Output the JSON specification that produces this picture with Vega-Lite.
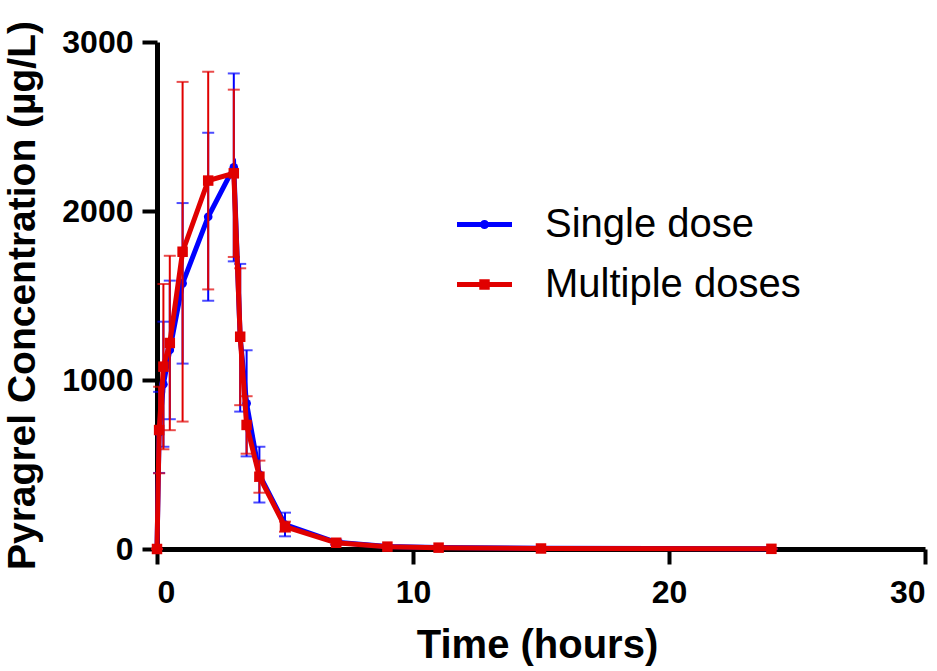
{
  "$schema": "https://vega.github.io/schema/vega-lite/v6.json",
  "width": 768,
  "height": 507,
  "autosize": "none",
  "padding": {"left": 157, "top": 42, "right": 12, "bottom": 122},
  "background": "white",
  "data": {
    "values": [
      {"series": "Single dose", "t": 0, "mean": 0, "sd": 0},
      {"series": "Single dose", "t": 0.083, "mean": 690, "sd": 240},
      {"series": "Single dose", "t": 0.25, "mean": 975, "sd": 370},
      {"series": "Single dose", "t": 0.5, "mean": 1178, "sd": 410},
      {"series": "Single dose", "t": 1, "mean": 1572, "sd": 475},
      {"series": "Single dose", "t": 2, "mean": 1966, "sd": 497},
      {"series": "Single dose", "t": 3, "mean": 2258, "sd": 556},
      {"series": "Single dose", "t": 3.25, "mean": 1250, "sd": 437},
      {"series": "Single dose", "t": 3.5, "mean": 862, "sd": 314},
      {"series": "Single dose", "t": 4, "mean": 440, "sd": 165},
      {"series": "Single dose", "t": 5, "mean": 145, "sd": 70},
      {"series": "Single dose", "t": 7, "mean": 40, "sd": 15},
      {"series": "Single dose", "t": 9, "mean": 15, "sd": 6},
      {"series": "Single dose", "t": 11, "mean": 9, "sd": 4},
      {"series": "Single dose", "t": 15, "mean": 4, "sd": 2},
      {"series": "Single dose", "t": 24, "mean": 1, "sd": 1},
      {"series": "Multiple doses", "t": 0, "mean": 0, "sd": 0},
      {"series": "Multiple doses", "t": 0.083, "mean": 704, "sd": 256},
      {"series": "Multiple doses", "t": 0.25, "mean": 1079, "sd": 489},
      {"series": "Multiple doses", "t": 0.5, "mean": 1219, "sd": 516},
      {"series": "Multiple doses", "t": 1, "mean": 1759, "sd": 1005},
      {"series": "Multiple doses", "t": 2, "mean": 2180, "sd": 644},
      {"series": "Multiple doses", "t": 3, "mean": 2223, "sd": 495},
      {"series": "Multiple doses", "t": 3.25, "mean": 1256, "sd": 405},
      {"series": "Multiple doses", "t": 3.5, "mean": 734, "sd": 170},
      {"series": "Multiple doses", "t": 4, "mean": 428, "sd": 95},
      {"series": "Multiple doses", "t": 5, "mean": 132, "sd": 30},
      {"series": "Multiple doses", "t": 7, "mean": 37, "sd": 10},
      {"series": "Multiple doses", "t": 9, "mean": 14, "sd": 5},
      {"series": "Multiple doses", "t": 11, "mean": 8, "sd": 3},
      {"series": "Multiple doses", "t": 15, "mean": 3, "sd": 1},
      {"series": "Multiple doses", "t": 24, "mean": 1, "sd": 1}
    ]
  },
  "encoding": {
    "x": {
      "field": "t",
      "type": "quantitative",
      "title": "Time (hours)",
      "scale": {"domain": [0, 30], "nice": false},
      "axis": {
        "values": [0, 10, 20, 30],
        "format": "d",
        "labelPadding": 13,
        "titleX": 380,
        "titleY": 108,
        "titleBaseline": "alphabetic",
        "titleAlign": "center"
      }
    },
    "y": {
      "field": "mean",
      "type": "quantitative",
      "title": "Pyragrel Concentration (µg/L)",
      "scale": {"domain": [0, 3000], "nice": false},
      "axis": {
        "values": [0, 1000, 2000, 3000],
        "format": "d",
        "labelPadding": 9,
        "titleX": -123,
        "titleY": 253,
        "titleAngle": -90,
        "titleBaseline": "alphabetic",
        "titleAlign": "center",
        "titleFontSize": 39
      }
    }
  },
  "layer": [
    {
      "transform": [{"filter": "datum.series == 'Single dose'"}],
      "mark": {"type": "errorbar", "ticks": {"size": 12, "thickness": 2, "color": "#0000ff"}, "thickness": 2, "color": "#0000ff"},
      "encoding": {"yError": {"field": "sd"}}
    },
    {
      "transform": [{"filter": "datum.series == 'Single dose'"}],
      "mark": {
        "type": "line",
        "color": "#0000ff",
        "strokeWidth": 5,
        "point": {"filled": true, "shape": "circle", "size": 75, "color": "#0000ff"}
      }
    },
    {
      "transform": [{"filter": "datum.series == 'Multiple doses'"}],
      "mark": {"type": "errorbar", "ticks": {"size": 12, "thickness": 2, "color": "#e00000"}, "thickness": 2, "color": "#e00000"},
      "encoding": {"yError": {"field": "sd"}}
    },
    {
      "transform": [{"filter": "datum.series == 'Multiple doses'"}],
      "mark": {
        "type": "line",
        "color": "#e00000",
        "strokeWidth": 5,
        "point": {"filled": true, "shape": "square", "size": 110, "color": "#e00000"}
      }
    },
    {
      "mark": {"type": "point", "filled": true, "opacity": 0},
      "encoding": {
        "color": {
          "field": "series",
          "type": "nominal",
          "scale": {"domain": ["Single dose", "Multiple doses"], "range": ["#0000ff", "#e00000"]},
          "legend": {
            "title": null,
            "orient": "none",
            "legendX": 300,
            "legendY": 155,
            "symbolOpacity": 1,
            "symbolStrokeWidth": 0,
            "symbolSize": 3025,
            "labelOffset": 33,
            "rowPadding": 12,
            "padding": 0
          }
        },
        "shape": {
          "field": "series",
          "type": "nominal",
          "scale": {
            "domain": ["Single dose", "Multiple doses"],
            "range": [
              "M-1,-0.09H1V0.09H-1Z M-0.165,0A0.165,0.165 0 1,1 0.165,0A0.165,0.165 0 1,1 -0.165,0Z",
              "M-1,-0.09H1V0.09H-1Z M-0.19,-0.19H0.19V0.19H-0.19Z"
            ]
          },
          "legend": {
            "title": null,
            "orient": "none",
            "legendX": 300,
            "legendY": 155,
            "symbolOpacity": 1,
            "symbolStrokeWidth": 0,
            "symbolSize": 3025,
            "labelOffset": 33,
            "rowPadding": 12,
            "padding": 0
          }
        }
      }
    }
  ],
  "config": {
    "view": {"stroke": null},
    "font": "Liberation Sans",
    "axis": {
      "grid": false,
      "domainColor": "black",
      "domainWidth": 5,
      "tickColor": "black",
      "tickWidth": 4,
      "tickSize": 15,
      "labelColor": "black",
      "labelFont": "Liberation Sans",
      "labelFontSize": 32,
      "labelFontWeight": "bold",
      "titleColor": "black",
      "titleFont": "Liberation Sans",
      "titleFontSize": 40,
      "titleFontWeight": "bold"
    },
    "legend": {
      "labelFont": "Liberation Sans",
      "labelFontSize": 40,
      "labelColor": "black",
      "labelLimit": 0
    }
  }
}
